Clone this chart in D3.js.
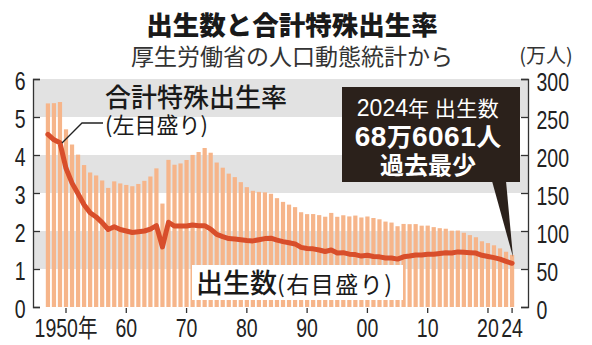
<!DOCTYPE html>
<html><head><meta charset="utf-8">
<script src="https://cdn.jsdelivr.net/npm/d3@7/dist/d3.min.js"></script>
<style>body{margin:0;background:#fff}svg{display:block}</style>
</head><body><svg id="c" width="592" height="345"></svg>
<script>
const years = [1947,1948,1949,1950,1951,1952,1953,1954,1955,1956,1957,1958,1959,
1960,1961,1962,1963,1964,1965,1966,1967,1968,1969,1970,1971,1972,1973,1974,1975,1976,1977,1978,1979,
1980,1981,1982,1983,1984,1985,1986,1987,1988,1989,1990,1991,1992,1993,1994,1995,1996,1997,1998,1999,
2000,2001,2002,2003,2004,2005,2006,2007,2008,2009,2010,2011,2012,2013,2014,2015,2016,2017,2018,2019,
2020,2021,2022,2023,2024];
// 出生数（万人）
const births = [267.9,268.2,269.7,233.8,213.8,200.5,186.8,177.0,173.1,166.5,156.7,165.3,162.6,
160.6,158.9,161.9,166.0,171.7,182.4,136.1,193.6,187.2,188.9,193.4,200.1,203.9,209.2,203.0,190.1,183.3,175.5,170.9,164.3,
157.7,152.9,151.5,150.9,149.0,143.2,138.3,134.7,131.4,124.7,122.2,122.3,120.9,118.8,123.8,118.7,120.7,119.2,120.3,117.8,
119.1,117.1,115.4,112.4,111.1,106.3,109.3,109.0,109.1,107.0,107.1,105.1,103.7,103.0,100.4,100.6,97.7,94.6,91.8,86.5,
84.1,81.2,77.1,72.7,68.6];
// 合計特殊出生率
const tfr = [4.54,4.40,4.32,3.65,3.26,2.98,2.69,2.48,2.37,2.22,2.04,2.11,2.04,
2.00,1.96,1.98,2.00,2.05,2.14,1.58,2.23,2.13,2.13,2.13,2.16,2.14,2.14,2.05,1.91,1.85,1.80,1.79,1.77,
1.75,1.74,1.77,1.80,1.81,1.76,1.72,1.69,1.66,1.57,1.54,1.53,1.50,1.46,1.50,1.42,1.43,1.39,1.38,1.34,
1.36,1.33,1.32,1.29,1.29,1.26,1.32,1.34,1.37,1.37,1.39,1.39,1.41,1.43,1.42,1.45,1.44,1.43,1.42,1.36,
1.33,1.30,1.26,1.20,1.15];
const leftTicks = [0,1,2,3,4,5,6];
const rightTicks = [0,50,100,150,200,250,300];
const bandRanges = [[1,2],[3,4],[5,6]];
const xTickYears = [1950,1960,1970,1980,1990,2000,2010,2020,2024];
const xTickLabels = ["1950年","60","70","80","90","00","10","20","24"];

const NUM = '"Liberation Sans",Arial,"Noto Sans CJK JP",sans-serif';
const JP = '"Noto Sans CJK JP",sans-serif';
const SX = 0.78;

const svg = d3.select("#c");
const x = d3.scaleBand().domain(years).range([44,516]).padding(0.3);
const yL = d3.scaleLinear().domain([0,6]).range([307,79]);
const yR = d3.scaleLinear().domain([0,300]).range([307,79]);
const xl = 33, xr = 528;

// gray bands
svg.append("g").selectAll("rect").data(bandRanges).join("rect")
  .attr("x", xl).attr("width", xr - xl)
  .attr("y", d => yL(d[1])).attr("height", d => yL(d[0]) - yL(d[1]))
  .attr("fill", "#e2e2e2");

// bars
svg.append("g").selectAll("rect").data(years).join("rect")
  .attr("x", d => x(d)).attr("width", x.bandwidth())
  .attr("y", (d,i) => yR(births[i])).attr("height", (d,i) => yR(0) - yR(births[i]))
  .attr("fill", "#f6b58a");

// white label box for 出生数
svg.append("rect").attr("x",192).attr("y",265).attr("width",211).attr("height",35).attr("fill","#fff");

// TFR line
const line = d3.line().x((d,i) => x(years[i]) + x.bandwidth()/2).y(d => yL(d));
svg.append("path").datum(tfr).attr("d", line).attr("fill","none")
  .attr("stroke","#d84e2b").attr("stroke-width",5).attr("stroke-linejoin","round").attr("stroke-linecap","round");

// axes
const gl = svg.append("g").attr("transform",`translate(${xl},0)`)
  .call(d3.axisLeft(yL).tickValues(leftTicks).tickSizeInner(-7).tickSizeOuter(-7).tickPadding(7.5/SX).tickFormat(d3.format("d")));
const gr = svg.append("g").attr("transform",`translate(${xr},0)`)
  .call(d3.axisRight(yR).tickValues(rightTicks).tickSizeInner(-7).tickSizeOuter(-7).tickPadding(8.5/SX).tickFormat(d3.format("d")));
const gb = svg.append("g").attr("transform","translate(0,308)")
  .call(d3.axisBottom(x).tickValues(xTickYears).tickSize(5).tickPadding(6)
    .tickFormat(d => xTickLabels[xTickYears.indexOf(d)]));
gb.select(".domain").remove();
[gl,gr,gb].forEach(g => {
  g.selectAll("path,line").attr("stroke","#333").attr("stroke-width",1.3);
  g.selectAll("text").attr("font-family",NUM).attr("font-size",25).attr("fill","#222")
    .attr("transform",`scale(${SX},1)`);
});
gl.selectAll("text").attr("dy","0.42em");
gr.selectAll("text").attr("dy","0.44em");

// titles
svg.append("text").attr("x",292).attr("y",35).attr("text-anchor","middle")
  .attr("font-family",JP).attr("font-weight",900).attr("font-size",26.5).attr("fill","#1a1a1a")
  .text("出生数と合計特殊出生率");
svg.append("text").attr("x",292).attr("y",65).attr("text-anchor","middle")
  .attr("font-family",JP).attr("font-weight",400).attr("font-size",23).attr("fill","#333")
  .text("厚生労働省の人口動態統計から");
svg.append("text").attr("x",546).attr("y",63).attr("text-anchor","middle")
  .attr("font-family",JP).attr("font-size",20).attr("fill","#333").text("(万人)");

// TFR annotation
svg.append("text").attr("x",105).attr("y",107)
  .attr("font-family",JP).attr("font-weight",500).attr("font-size",26).attr("fill","#1a1a1a").text("合計特殊出生率");
svg.append("text").attr("x",105).attr("y",133)
  .attr("font-family",JP).attr("font-size",22).attr("fill","#1a1a1a").text("(左目盛り)");
svg.append("path").attr("d","M103,123H82L62,143").attr("fill","none").attr("stroke","#222").attr("stroke-width",1.3);

// births label
const bl = svg.append("text").attr("x",196).attr("y",293).attr("font-family",JP).attr("fill","#1a1a1a");
bl.append("tspan").attr("font-size",27).attr("font-weight",500).text("出生数");
bl.append("tspan").attr("font-size",23).attr("letter-spacing",1.5).text("(右目盛り)");

// callout box
svg.append("path").attr("d","M492,181L506,181L513,257Z").attr("fill","#2b211b");
svg.append("rect").attr("x",342).attr("y",87).attr("width",178).attr("height",95).attr("fill","#2b211b");
const t1 = svg.append("text").attr("x",428).attr("y",116).attr("text-anchor","middle").attr("fill","#fff");
t1.append("tspan").attr("font-family",NUM).attr("font-size",23).text("2024");
t1.append("tspan").attr("font-family",JP).attr("font-size",21).attr("letter-spacing",0.5).text("年 出生数");
const t2 = svg.append("text").attr("x",428).attr("y",146).attr("text-anchor","middle").attr("fill","#fff").attr("font-weight",700);
t2.append("tspan").attr("font-family",NUM).attr("font-size",28).attr("letter-spacing",0.5).text("68");
t2.append("tspan").attr("font-family",JP).attr("font-size",25).text("万");
t2.append("tspan").attr("font-family",NUM).attr("font-size",28).attr("letter-spacing",0.5).text("6061");
t2.append("tspan").attr("font-family",JP).attr("font-size",25).text("人");
svg.append("text").attr("x",428).attr("y",174).attr("text-anchor","middle").attr("fill","#fff")
  .attr("font-family",JP).attr("font-weight",700).attr("font-size",24).text("過去最少");
</script></body></html>
